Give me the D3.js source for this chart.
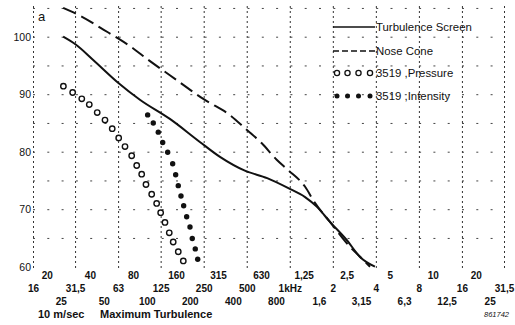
<!DOCTYPE html>
<html lang="en">

<head>
    <meta charset="utf-8">
    <title>Turbulence screen</title>
    <script type="text/javascript" src="https://d3js.org/d3.v7.min.js"></script>
    <style>
        body { margin: 0; background: #fff; }
        text { fill: #111; }
        .ytick text { font-family: "Liberation Sans", Arial, sans-serif; font-size: 10.5px; }
        .xrow text { font-family: "Liberation Sans Narrow", "Liberation Sans", Arial, sans-serif; font-size: 10px; font-weight: bold; }
        .legend { font-family: "Liberation Sans", Arial, sans-serif; font-size: 11.4px; }
        .note { font-family: "Liberation Sans", Arial, sans-serif; font-size: 11px; font-weight: bold; }
    </style>
</head>

<body>
    <div id="container"></div>
    <script type="text/javascript">
        var w = 515;
        var h = 325;

        // frequency (Hz) / level (dB)
        var screenFreq = [26, 32, 42, 63, 90, 145, 235, 325, 485, 695, 970, 1280, 1550, 1910, 2510, 3100, 3940];
        var screenDb = [100, 98.6, 96, 92, 89, 85.7, 81.7, 79.1, 76.7, 75.4, 73.7, 72.1, 70.4, 67.8, 64.6, 61.7, 60];

        var coneFreq = [26, 35, 50, 63, 80, 102, 145, 255, 380, 500, 635, 810, 975, 1280, 1500, 1910, 2500, 3260, 3640];
        var coneDb = [105, 103.5, 101.2, 99.7, 98, 96, 93.3, 89, 86.4, 83.8, 81.5, 78.6, 76.8, 73.9, 71.1, 67.8, 64.1, 61.2, 60];

        var pressureFreq = [26.1, 30.3, 35.1, 39.6, 45, 51, 57.3, 63.6, 70.4, 78.4, 85, 92.1, 98.7, 108.2, 117.2, 125, 134, 143.6, 153, 166, 180];
        var pressureDb = [91.4, 90.3, 89.2, 88.2, 86.8, 85.5, 84, 82.4, 80.9, 79.3, 77.6, 76.1, 74.3, 72.6, 71, 69.4, 67.7, 65.9, 64.3, 62.6, 61];

        var intensityFreq = [101.4, 111, 120.3, 129.2, 140, 151.7, 159.2, 166, 173.4, 181.1, 190, 200.5, 208, 218.3, 227];
        var intensityDb = [86.4, 85, 83.4, 81.6, 79.9, 77.9, 76, 74.1, 72.3, 70.6, 68.7, 66.9, 64.9, 63.1, 61.3];

        // tick labels, three rows of third-octave frequencies
        var row1Freq = [20, 40, 80, 160, 315, 630, 1250, 2500, 5000, 10000, 20000];
        var row1Label = ["20", "40", "80", "160", "315", "630", "1,25", "2,5", "5", "10", "20"];
        var row2Freq = [16, 31.5, 63, 125, 250, 500, 1000, 2000, 4000, 8000, 16000, 31500];
        var row2Label = ["16", "31,5", "63", "125", "250", "500", "1kHz", "2", "4", "8", "16", "31,5"];
        var row3Freq = [25, 50, 100, 200, 400, 800, 1600, 3150, 6300, 12500, 25000];
        var row3Label = ["25", "50", "100", "200", "400", "800", "1,6", "3,15", "6,3", "12,5", "25"];
        var yTicks = [60, 70, 80, 90, 100];
        var gridDb = [65, 70, 75, 80, 85, 90, 95, 100, 105];

        var legendNames = ["Turbulence Screen", "Nose Cone", "3519 ,Pressure", "3519 ,Intensity"];

        const svg = d3.select("div#container")
            .append("svg")
            .attr("width", w)
            .attr("height", h)
            .style("background-color", "#fff");

        var x = d3.scaleLog().domain([16, 31500]).range([33, 504]);
        var y = d3.scaleLinear().domain([60, 100]).range([266.7, 36.7]);

        // dotted grid
        var vgrid = svg.append("g")
            .attr("transform", "translate(0,268)")
            .call(d3.axisBottom(x).tickValues(row2Freq).tickSize(-263).tickFormat(""));
        vgrid.select(".domain").remove();
        vgrid.selectAll(".tick line")
            .attr("stroke", "#333")
            .attr("stroke-width", 1)
            .attr("stroke-dasharray", "2,3");

        var hgrid = svg.append("g")
            .attr("transform", "translate(33,0)")
            .call(d3.axisLeft(y).tickValues(gridDb).tickSize(-471).tickFormat(""));
        hgrid.select(".domain").remove();
        hgrid.selectAll(".tick line")
            .attr("stroke", "#444")
            .attr("stroke-width", 1)
            .attr("stroke-dasharray", "2,12.3");

        // y labels
        svg.append("g")
            .attr("class", "ytick")
            .attr("transform", "translate(32,0)")
            .call(d3.axisLeft(y).tickValues(yTicks).tickSize(0).tickPadding(1))
            .call(g => g.select(".domain").remove());

        // x label rows
        function xRow(vals, labels, cy) {
            svg.append("g")
                .attr("class", "xrow")
                .attr("transform", "translate(0," + cy + ")")
                .call(d3.axisBottom(x).tickValues(vals).tickSize(0)
                    .tickFormat((d, i) => labels[i]))
                .call(g => g.select(".domain").remove())
                .selectAll("text")
                .attr("y", 0)
                .attr("dy", "0.36em");
        }
        xRow(row1Freq, row1Label, 275.5);
        xRow(row2Freq, row2Label, 288.5);
        xRow(row3Freq, row3Label, 301);

        // curves
        var line = d3.line()
            .x(d => x(d[0]))
            .y(d => y(d[1]))
            .curve(d3.curveMonotoneX);

        svg.append("path")
            .datum(d3.zip(screenFreq, screenDb))
            .attr("fill", "none")
            .attr("stroke", "#111")
            .attr("stroke-width", 2)
            .attr("d", line);

        svg.append("path")
            .datum(d3.zip(coneFreq, coneDb))
            .attr("fill", "none")
            .attr("stroke", "#111")
            .attr("stroke-width", 2)
            .attr("stroke-dasharray", "14,6")
            .attr("d", line);

        svg.append("g").selectAll("circle")
            .data(d3.zip(pressureFreq, pressureDb))
            .enter()
            .append("circle")
            .attr("cx", d => x(d[0]))
            .attr("cy", d => y(d[1]))
            .attr("r", 2.7)
            .attr("fill", "#fff")
            .attr("stroke", "#111")
            .attr("stroke-width", 1.4);

        svg.append("g").selectAll("circle")
            .data(d3.zip(intensityFreq, intensityDb))
            .enter()
            .append("circle")
            .attr("cx", d => x(d[0]))
            .attr("cy", d => y(d[1]))
            .attr("r", 2.7)
            .attr("fill", "#111");

        // legend
        var lg = svg.append("g").attr("class", "legend");
        var legY = [27, 51, 73, 96];
        lg.append("line").attr("x1", 333).attr("x2", 375).attr("y1", legY[0]).attr("y2", legY[0])
            .attr("stroke", "#111").attr("stroke-width", 1.6);
        lg.append("line").attr("x1", 333).attr("x2", 375).attr("y1", legY[1]).attr("y2", legY[1])
            .attr("stroke", "#111").attr("stroke-width", 1.6).attr("stroke-dasharray", "6,3");
        [337, 347.5, 358.5, 370].forEach(cx => {
            lg.append("circle").attr("cx", cx).attr("cy", legY[2]).attr("r", 2.6)
                .attr("fill", "#fff").attr("stroke", "#111").attr("stroke-width", 1.3);
            lg.append("circle").attr("cx", cx).attr("cy", legY[3]).attr("r", 2.5)
                .attr("fill", "#111");
        });
        lg.selectAll("text")
            .data(legendNames)
            .enter()
            .append("text")
            .attr("x", 376)
            .attr("y", (d, i) => legY[i])
            .attr("dy", "0.36em")
            .text(d => d);

        // annotations
        svg.append("text").attr("x", 38).attr("y", 21).attr("font-family", "Liberation Sans, Arial, sans-serif")
            .attr("font-size", "13px").text("a");
        svg.append("text").attr("class", "note").attr("x", 38).attr("y", 318).text("10 m/sec");
        svg.append("text").attr("class", "note").attr("x", 100).attr("y", 318).text("Maximum Turbulence");
        svg.append("text").attr("x", 509).attr("y", 317).attr("text-anchor", "end")
            .attr("font-family", "Liberation Sans, Arial, sans-serif").attr("font-size", "7.5px")
            .attr("font-style", "italic").text("861742");
    </script>
</body>

</html>
